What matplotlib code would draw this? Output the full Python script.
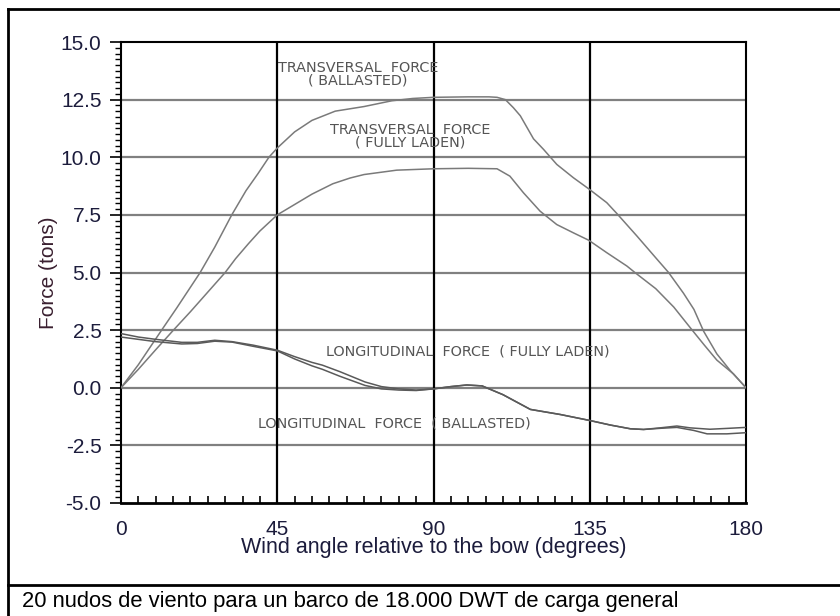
import matplotlib.pyplot as plt
from matplotlib.lines import Line2D
from matplotlib.ticker import MultipleLocator

# Transversal force, ballasted (angle in degrees, force in tons)
trans_ball_x = [0, 5, 11.7, 16, 22.8, 27, 31.9, 36, 39.5, 42.6, 45, 50, 55, 61.7, 70, 78, 84,
                90, 100, 106, 108.3, 110.7, 113, 115, 118.8, 121.7, 125.5, 130.3, 134.7,
                139.9, 142.8, 148.6, 154.4, 157.7, 162, 165, 167.8, 171.6, 175.5, 180]
trans_ball_y = [0, 1.0, 2.5, 3.45, 5.0, 6.1, 7.5, 8.55, 9.3, 10.0, 10.4, 11.1, 11.6, 12.0, 12.2,
                12.45, 12.55, 12.6, 12.62, 12.62, 12.6, 12.5, 12.15, 11.8, 10.8, 10.34, 9.69,
                9.11, 8.63, 8.03, 7.56, 6.58, 5.57, 5.0, 4.1, 3.4, 2.45, 1.47, 0.74, 0]

# Transversal force, fully laden
trans_full_x = [0, 5, 10, 15.1, 20, 25, 30, 33, 36.7, 40, 45, 50, 55, 61, 66, 70, 79.4, 90,
                100, 108.3, 112, 115.9, 120.7, 125.5, 130.3, 134.7, 139.9, 145.7, 148, 154,
                159.2, 164.5, 168, 171.6, 176.4, 180]
trans_full_y = [0, 0.8, 1.65, 2.5, 3.3, 4.15, 5.0, 5.6, 6.25, 6.8, 7.5, 7.95, 8.4, 8.85, 9.1,
                9.25, 9.44, 9.5, 9.52, 9.5, 9.18, 8.46, 7.66, 7.08, 6.72, 6.4, 5.86, 5.28,
                5.0, 4.3, 3.5, 2.5, 1.85, 1.2, 0.6, 0]

# Longitudinal force, fully laden
long_full_x = [0, 5, 10, 17.5, 22, 27, 32, 38, 45, 50, 55, 58, 63, 70.3, 75, 80, 85, 90, 95,
               99.6, 104, 110, 117.9, 126.5, 135, 141, 146.7, 150.5, 155.3, 160.1, 163.9,
               169.6, 175, 180]
long_full_y = [2.35, 2.2, 2.1, 1.97, 1.97, 2.06, 2.0, 1.85, 1.63, 1.35, 1.1, 0.98, 0.7, 0.25,
               0.05, -0.05, -0.1, -0.05, 0.05, 0.12, 0.08, -0.3, -0.94, -1.16, -1.42, -1.62,
               -1.78, -1.81, -1.74, -1.66, -1.74, -1.8, -1.76, -1.72]

# Longitudinal force, ballasted
long_ball_x = [0, 5, 10, 17.5, 22, 27, 32, 38, 45, 50, 55, 58, 63, 70.3, 75, 80, 85, 90, 95,
               99.6, 104, 110, 117.9, 126.5, 135, 141, 146.7, 150.5, 155.3, 160.1, 164.9,
               168.8, 174.5, 180]
long_ball_y = [2.2, 2.1, 2.0, 1.9, 1.92, 2.02, 1.98, 1.8, 1.6, 1.25, 0.95, 0.8, 0.5, 0.1,
               -0.05, -0.1, -0.12, -0.05, 0.05, 0.12, 0.08, -0.3, -0.94, -1.16, -1.42, -1.62,
               -1.78, -1.81, -1.76, -1.72, -1.85, -2.0, -2.0, -1.95]

x_ticks = [0, 45, 90, 135, 180]
y_ticks = [-5.0, -2.5, 0.0, 2.5, 5.0, 7.5, 10.0, 12.5, 15.0]

plt.rcParams['font.family'] = ['Liberation Sans', 'DejaVu Sans']

fig = plt.figure(figsize=(8.4, 6.16), dpi=100)
ax = fig.add_axes([121 / 840, 1 - 503 / 616, 625 / 840, 461 / 616])

# grid: gray horizontals, black verticals
for v in y_ticks[1:-1]:
    ax.axhline(v, color='#808080', lw=1.6, zorder=1)
for a in x_ticks[1:-1]:
    ax.axvline(a, color='black', lw=1.6, zorder=2)

curve_color = '#7a7a7a'
ax.plot(trans_ball_x, trans_ball_y, color=curve_color, lw=1.1, zorder=3)
ax.plot(trans_full_x, trans_full_y, color=curve_color, lw=1.1, zorder=3)
ax.plot(long_full_x, long_full_y, color='#5a5a5a', lw=1.1, zorder=3)
ax.plot(long_ball_x, long_ball_y, color='#5a5a5a', lw=1.1, zorder=3)

note = dict(color='#555555', fontsize=10.4, family='DejaVu Sans', ha='center', va='center',
            linespacing=0.9, zorder=4)
ax.text(68.2, 13.61, 'TRANSVERSAL  FORCE\n( BALLASTED)', **note)
ax.text(83.3, 10.92, 'TRANSVERSAL  FORCE\n( FULLY LADEN)', **note)
ax.text(100.0, 1.58, 'LONGITUDINAL  FORCE  ( FULLY LADEN)', **note)
ax.text(78.7, -1.55, 'LONGITUDINAL  FORCE  ( BALLASTED)', **note)

ax.set_xlim(0, 180)
ax.set_ylim(-5, 15)
ax.set_xticks(x_ticks)
ax.set_xticklabels([str(t) for t in x_ticks])
ax.set_yticks(y_ticks)
ax.set_yticklabels(['%.1f' % t for t in y_ticks])
ax.xaxis.set_minor_locator(MultipleLocator(5))
ax.yaxis.set_minor_locator(MultipleLocator(0.25))

tick_color = '#1c1c3c'
ax.tick_params(axis='x', which='both', direction='in', length=5, width=1.2,
               labelsize=15, labelcolor=tick_color, pad=12)
ax.tick_params(axis='y', which='major', direction='out', length=8, width=1.2,
               labelsize=15, labelcolor=tick_color, pad=6)
ax.tick_params(axis='y', which='minor', direction='out', length=4, width=1.0)

for side in ax.spines.values():
    side.set_color('black')
    side.set_linewidth(1.5)
ax.spines['bottom'].set_linewidth(2)

ax.set_xlabel('Wind angle relative to the bow (degrees)', fontsize=15.5, color='#1c1c3c',
              labelpad=-1)
ax.set_ylabel('Force (tons)', fontsize=15, color='#3a2030', labelpad=2)

# outer frame and caption row
W, H = 840, 616
frame = dict(color='black', lw=2, transform=fig.transFigure)
fig.add_artist(Line2D([8 / W, 8 / W], [0, 1 - 9 / H], **frame))
fig.add_artist(Line2D([8 / W, 1], [1 - 9 / H, 1 - 9 / H], **frame))
fig.add_artist(Line2D([8 / W, 1], [1 - 585 / H, 1 - 585 / H], **frame))
fig.text(22 / W, 1 - 602 / H, '20 nudos de viento para un barco de 18.000 DWT de carga general',
         fontsize=15.8, color='black', ha='left', va='center')

fig.savefig('out.png', dpi=100)
